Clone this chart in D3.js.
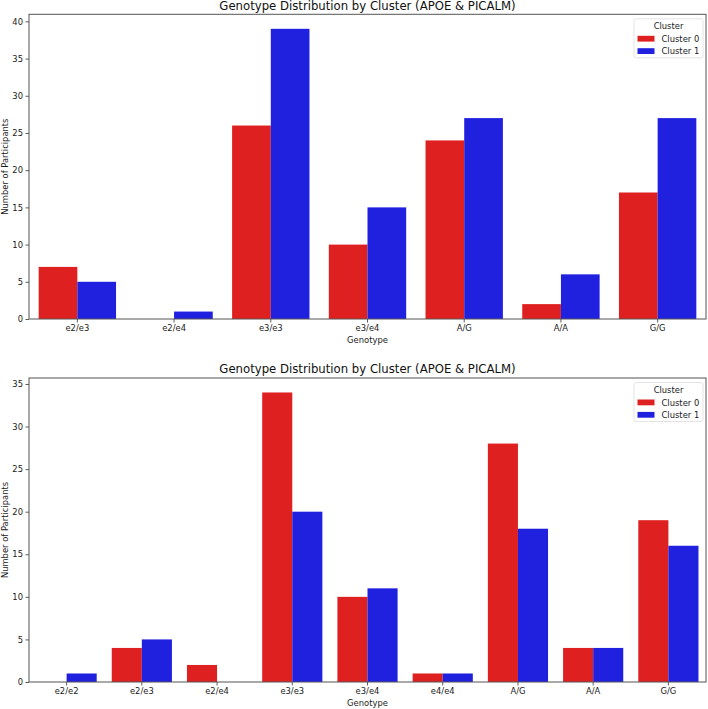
<!DOCTYPE html>
<html>
<head>
<meta charset="utf-8">
<script src="https://cdn.jsdelivr.net/npm/d3@7"></script>
<style>
  html, body { margin: 0; padding: 0; background: #fff; }
  svg { display: block; font-family: "DejaVu Sans", sans-serif; }
</style>
</head>
<body>
<svg id="chart" width="708" height="709"></svg>
<script>
// ---- Data ----
const chartTitle = "Genotype Distribution by Cluster (APOE & PICALM)";
const seriesNames = ["Cluster 0", "Cluster 1"];
const seriesColors = ["#df2020", "#2020df"];

const topCategories = ["e2/e3", "e2/e4", "e3/e3", "e3/e4", "A/G", "A/A", "G/G"];
const topCluster0 = [7, 0, 26, 10, 24, 2, 17];
const topCluster1 = [5, 1, 39, 15, 27, 6, 27];
const topYTicks = [0, 5, 10, 15, 20, 25, 30, 35, 40];

const bottomCategories = ["e2/e2", "e2/e3", "e2/e4", "e3/e3", "e3/e4", "e4/e4", "A/G", "A/A", "G/G"];
const bottomCluster0 = [0, 4, 2, 34, 10, 1, 28, 4, 19];
const bottomCluster1 = [1, 5, 0, 20, 11, 1, 18, 4, 16];
const bottomYTicks = [0, 5, 10, 15, 20, 25, 30, 35];

// ---- Drawing ----
const svg = d3.select("#chart");

function drawPanel(box, categories, s0, s1, yTicks) {
  const series = [s0, s1];
  const maxVal = d3.max(series.flat());
  const g = svg.append("g");
  const x = d3.scaleBand().domain(categories).range([box.left, box.right]).paddingInner(0).paddingOuter(0);
  const y = d3.scaleLinear().domain([0, maxVal * 1.05]).range([box.bottom, box.top]);
  const groupW = x.bandwidth() * 0.8;
  const barW = groupW / series.length;

  series.forEach((vals, si) => {
    g.append("g").selectAll("rect").data(categories.map((c, i) => ({ c, v: vals[i] })))
      .join("rect")
      .attr("x", d => x(d.c) + x.bandwidth() * 0.1 + si * barW)
      .attr("width", barW)
      .attr("y", d => y(d.v))
      .attr("height", d => y(0) - y(d.v))
      .attr("fill", seriesColors[si]);
  });

  // Axes
  const xAxis = d3.axisBottom(x).tickSize(3.5).tickPadding(2.5);
  const yAxis = d3.axisLeft(y).tickValues(yTicks).tickSize(3.5).tickPadding(2.5);
  const gx = g.append("g").attr("transform", `translate(0,${box.bottom})`).call(xAxis);
  const gy = g.append("g").attr("transform", `translate(${box.left},0)`).call(yAxis);
  [gx, gy].forEach(a => {
    a.select(".domain").remove();
    a.selectAll(".tick line").attr("stroke", "#333").attr("stroke-width", 0.8);
    a.selectAll(".tick text").attr("fill", "#1a1a1a").style("font-size", "8.4px").style("font-family", "DejaVu Sans");
  });

  // Frame (spines)
  g.append("rect")
    .attr("x", box.left).attr("y", box.top)
    .attr("width", box.right - box.left).attr("height", box.bottom - box.top)
    .attr("fill", "none").attr("stroke", "#555").attr("stroke-width", 1);

  // Title
  g.append("text")
    .attr("x", (box.left + box.right) / 2).attr("y", box.top - 4.8)
    .attr("text-anchor", "middle").style("font-size", "11.7px").attr("fill", "#111")
    .text(chartTitle);

  // Axis labels
  g.append("text")
    .attr("x", (box.left + box.right) / 2).attr("y", box.bottom + 24)
    .attr("text-anchor", "middle").style("font-size", "8.4px").attr("fill", "#1a1a1a")
    .text("Genotype");
  g.append("text")
    .attr("transform", `translate(${box.left - 21},${(box.top + box.bottom) / 2}) rotate(-90)`)
    .attr("text-anchor", "middle").style("font-size", "8.4px").attr("fill", "#1a1a1a")
    .text("Number of Participants");

  // Legend
  const lg = g.append("g").attr("transform", `translate(${box.right - 72},${box.top + 4.5})`);
  lg.append("rect").attr("width", 69).attr("height", 39).attr("rx", 2)
    .attr("fill", "#fff").attr("fill-opacity", 0.8).attr("stroke", "#ddd").attr("stroke-width", 0.8);
  lg.append("text").attr("x", 34.5).attr("y", 10.5).attr("text-anchor", "middle")
    .style("font-size", "8.4px").attr("fill", "#1a1a1a").text("Cluster");
  seriesNames.forEach((name, i) => {
    const ry = 20 + i * 12.4;
    lg.append("rect").attr("x", 3.5).attr("y", ry - 3).attr("width", 17).attr("height", 5.8).attr("fill", seriesColors[i]);
    lg.append("text").attr("x", 27.5).attr("y", ry + 3).style("font-size", "8.4px").attr("fill", "#1a1a1a").text(name);
  });
}

drawPanel({ left: 29, right: 706, top: 14.3, bottom: 319 }, topCategories, topCluster0, topCluster1, topYTicks);
drawPanel({ left: 29, right: 706, top: 378, bottom: 682 }, bottomCategories, bottomCluster0, bottomCluster1, bottomYTicks);
</script>
</body>
</html>
